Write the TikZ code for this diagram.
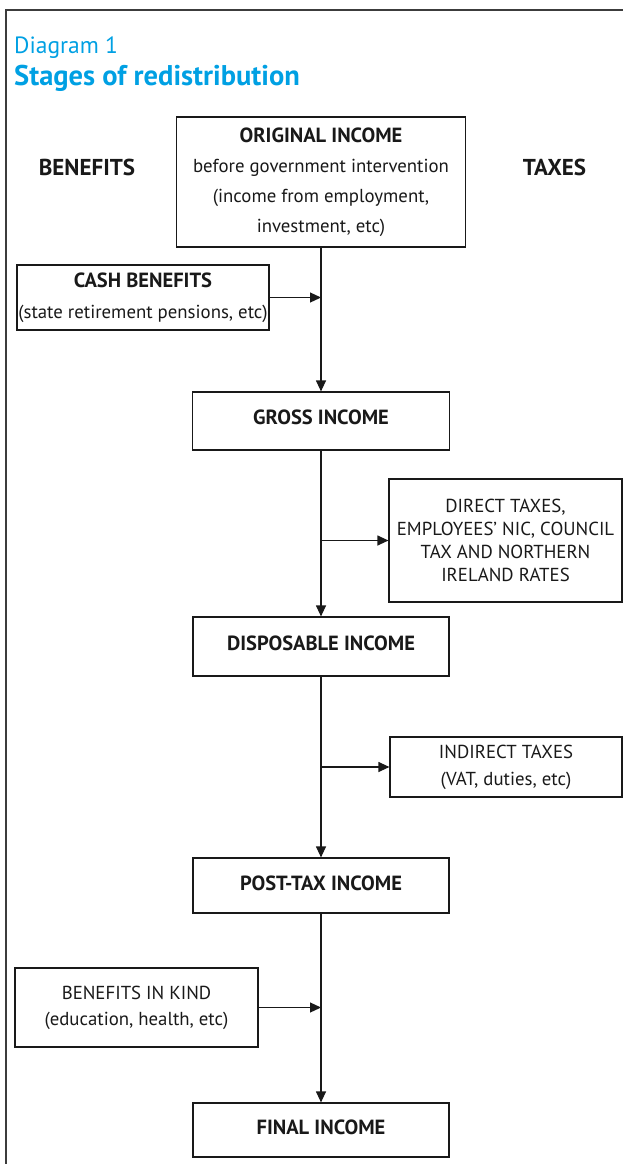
\documentclass[tikz,border=0pt]{standalone}
\usepackage{fontspec}
\setmainfont{PT Sans}
\usetikzlibrary{arrows.meta}
\definecolor{onsblue}{RGB}{0,160,227}
\definecolor{framegray}{RGB}{60,60,60}
\definecolor{ink}{RGB}{25,25,25}
\tikzset{
  box/.style={draw=ink, line width=1.2pt, inner sep=0pt, align=center, text=ink},
  arr/.style={draw=ink, line width=1.2pt, -{Triangle[length=11pt,width=10pt]}},
  headtext/.style={font=\bfseries\fontsize{23}{27}\selectfont, text=ink, inner sep=0pt},
  stage/.style={box, font=\bfseries\fontsize{20.5}{30}\selectfont, text depth=7pt},
}
\newcommand{\hd}{\bfseries\fontsize{20.5}{30}\selectfont}
\begin{document}
\begin{tikzpicture}[x=1pt,y=1pt]
\useasboundingbox (0,0) rectangle (623,-1164);
% frame
\draw[framegray, line width=1.5pt] (6,-1170) -- (6,-10) -- (630,-10);
% titles
\node[anchor=base west, inner sep=0pt, text=onsblue, font=\fontsize{23.5}{27}\selectfont] (t1) at (14,-54) {Diagram 1};
\node[anchor=base west, inner sep=0pt, text=onsblue, font=\bfseries\fontsize{28.5}{32}\selectfont] (t2) at (14,-85) {Stages of redistribution};
% side headings
\node[headtext] (ben) at (87,-167) {BENEFITS};
\node[headtext] (tax) at (554.5,-167) {TAXES};
% boxes
\node[box, font=\fontsize{18.8}{30}\selectfont, minimum width=289pt, minimum height=130pt] (orig) at (321,-182)
  {{\hd ORIGINAL INCOME}\\before government intervention\\(income from employment,\\investment, etc)};
\node[box, font=\fontsize{18.8}{31}\selectfont, minimum width=252pt, minimum height=65pt] (cash) at (143,-297.5)
  {{\hd CASH BENEFITS}\\(state retirement pensions, etc)};
\node[stage, minimum width=257pt, minimum height=58pt] (gross) at (321,-421) {GROSS INCOME};
\node[box, font=\fontsize{18.8}{23}\selectfont, minimum width=233pt, minimum height=123pt] (direct) at (505.5,-540.5)
  {DIRECT TAXES,\\EMPLOYEES' NIC, COUNCIL\\TAX AND NORTHERN\\IRELAND RATES};
\node[stage, minimum width=256pt, minimum height=59pt] (disp) at (321,-646.5) {DISPOSABLE INCOME};
\node[box, font=\fontsize{18.8}{27}\selectfont, minimum width=232pt, minimum height=60pt] (indirect) at (506,-767)
  {INDIRECT TAXES\\(VAT, duties, etc)};
\node[stage, text depth=5pt, minimum width=256pt, minimum height=55pt] (post) at (321,-885.5) {POST-TAX INCOME};
\node[box, font=\fontsize{18.8}{26}\selectfont, minimum width=243pt, minimum height=79pt] (bik) at (136.5,-1007.5)
  {BENEFITS IN KIND\\(education, health, etc)};
\node[stage, text depth=5pt, minimum width=256pt, minimum height=54pt] (final) at (321,-1130) {FINAL INCOME};
% junctions
\coordinate (j1) at (orig.south |- cash.east);
\coordinate (j2) at (gross.south |- direct.west);
\coordinate (j3) at (disp.south |- indirect.west);
\coordinate (j4) at (post.south |- bik.east);
% connectors
\draw[arr] (orig.south) -- (gross.north);
\draw[arr] (cash.east) -- (j1);
\draw[arr] (gross.south) -- (disp.north);
\draw[arr] (j2) -- (direct.west);
\draw[arr] (disp.south) -- (post.north);
\draw[arr] (j3) -- (indirect.west);
\draw[arr] (post.south) -- (final.north);
\draw[arr] (bik.east) -- (j4);
\end{tikzpicture}
\end{document}
